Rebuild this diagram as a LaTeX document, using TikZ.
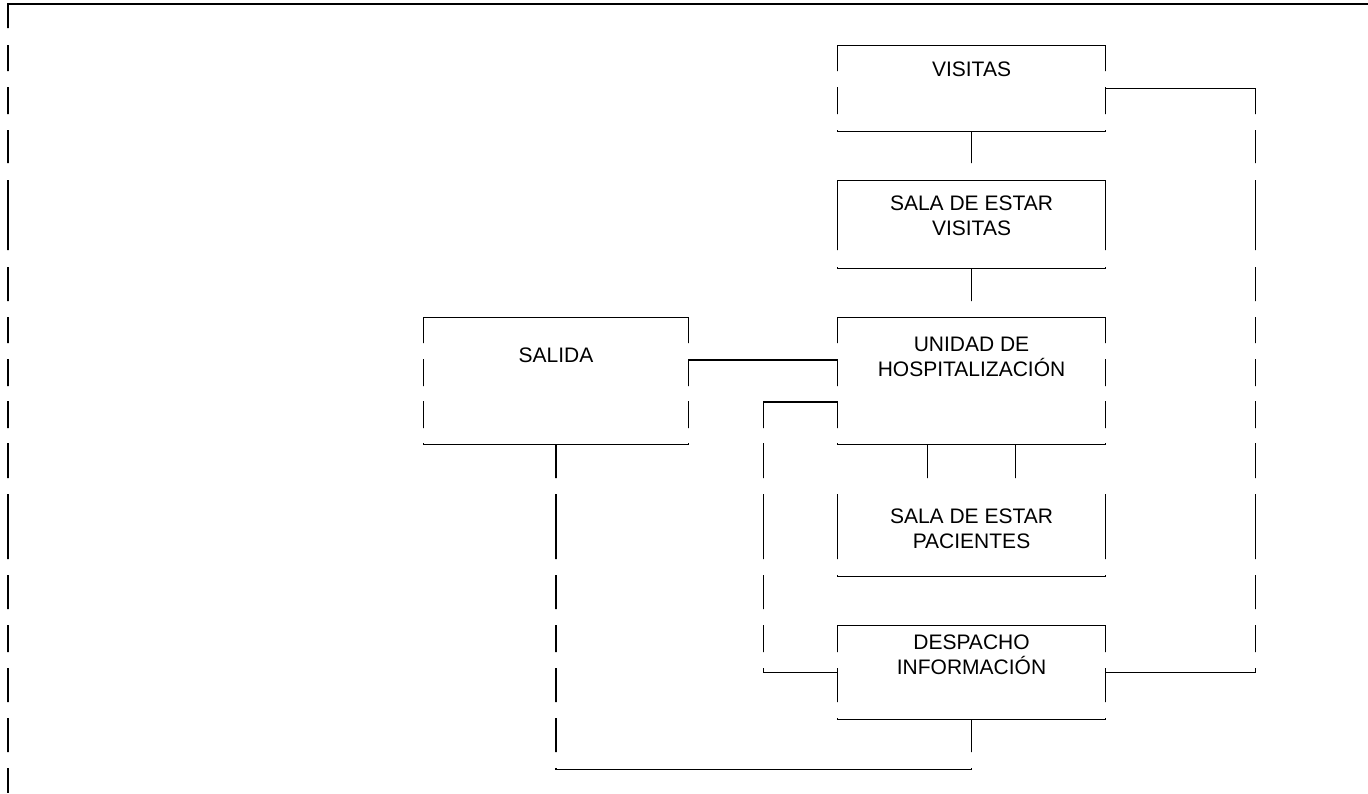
\documentclass[tikz,border=0pt]{standalone}
\usepackage{fontspec}
\setmainfont{Liberation Sans}
\usetikzlibrary{positioning}

\begin{document}
\begin{tikzpicture}[
    x=0.5pt, y=-0.5pt,
    box/.style={rectangle, inner sep=0pt, minimum width=133.5pt},
    lbl/.style={inner sep=0pt, align=center, font=\fontsize{10.5pt}{12.5pt}\selectfont},
    wall/.style={line width=0.6pt}
]
    \useasboundingbox (0,0) rectangle (1368,793);

    % Areas
    \node[box, minimum height=42.5pt] (visitas) at (971.5,88.5) {};
    \node[box, minimum height=43.5pt] (salaV) at (971.5,224.5) {};
    \node[box, minimum height=63pt] (unidad) at (971.5,381) {};
    \node[box, minimum height=41pt] (salaP) at (971.5,535) {};
    \node[box, minimum height=46.5pt] (despacho) at (971.5,672.5) {};
    \node[box, minimum width=132pt, minimum height=63pt] (salida) at (556,381) {};

    % Labels
    \node[lbl, below=8pt of visitas.north] (visitasT) {VISITAS};
    \node[lbl, below=7.25pt of salaV.north] (salaVT) {SALA DE ESTAR\\VISITAS};
    \node[lbl, below=9.5pt of unidad.north] (unidadT) {UNIDAD DE\\HOSPITALIZACIÓN};
    \node[lbl, below=7.5pt of salaP.north] (salaPT) {SALA DE ESTAR\\PACIENTES};
    \node[lbl, below=4.5pt of despacho.north] (despachoT) {DESPACHO\\INFORMACIÓN};
    \node[lbl, below=15pt of salida.north] (salidaT) {SALIDA};

    % Lines, cut into row strips
    \begin{scope}
        \clip \foreach \a/\b in {3/28, 45/71, 87/114, 130/163, 180/250, 267/301, 317/343, 359/386,
            401/428, 443/478, 494/559, 575/609, 625/652, 668/702, 718/752, 768/793}
            {(0,\a) rectangle (1368,\b)};

        % Frame
        \draw[wall] (1368,4) -- (8,4) -- (8,793);

        % Boxes
        \foreach \n in {visitas,salaV,unidad,salaP,despacho,salida}
            \draw[wall] (\n.north west) rectangle (\n.south east);

        % Connections
        \draw[wall] (visitas.south) -- (salaV.north);
        \draw[wall] (salaV.south) -- (unidad.north);
        \draw[wall] ([xshift=-22pt]unidad.south) -- ([xshift=-22pt]salaP.north);
        \draw[wall] ([xshift=22pt]unidad.south) -- ([xshift=22pt]salaP.north);
        \draw[wall] ([yshift=10.5pt]salida.east) -- ([yshift=10.5pt]unidad.west);
        \draw[wall] ([yshift=-10.5pt]unidad.west) -- ++(-74,0) |- (despacho.west);
        \draw[wall] (visitas.east) -- ++(150,0) |- (despacho.east);
        \draw[wall] (salida.south) -- ++(0,325) -| (despacho.south);
    \end{scope}
\end{tikzpicture}
\end{document}
